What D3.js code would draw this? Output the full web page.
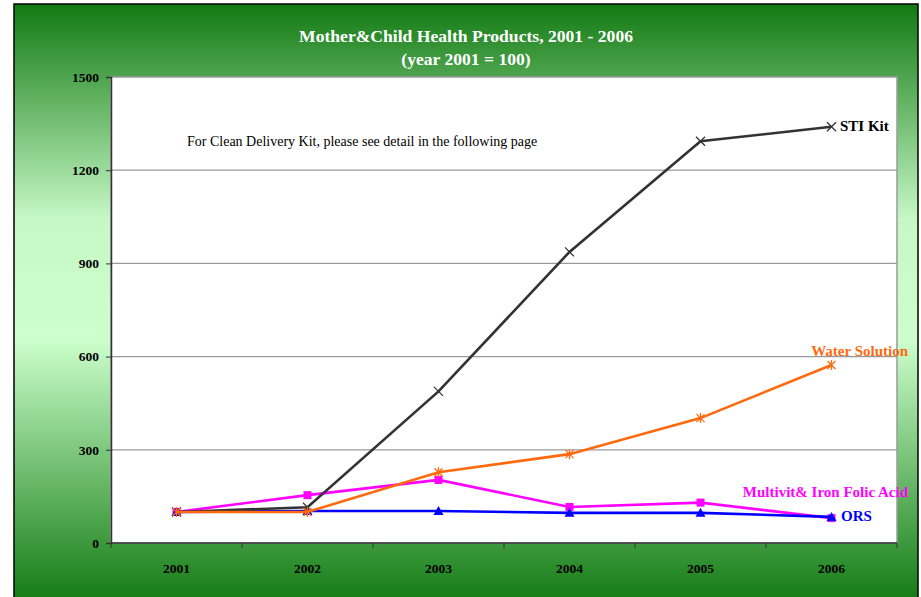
<!DOCTYPE html>
<html>
<head>
<meta charset="utf-8">
<script src="https://cdn.jsdelivr.net/npm/d3@7"></script>
<style>
  html, body { margin: 0; padding: 0; background: #ffffff; }
  svg { display: block; }
</style>
</head>
<body>
<svg id="chart" width="921" height="597"></svg>
<script>
// ---- data ----
const years = ["2001", "2002", "2003", "2004", "2005", "2006"];
const stiKit = [100, 115, 488, 937, 1293, 1340];
const waterSolution = [100, 100, 228, 286, 402, 573];
const multivitIron = [100, 154, 203, 116, 130, 80];
const ors = [100, 103, 103, 97, 97, 84];
const yTicks = [0, 300, 600, 900, 1200, 1500];
const titleLines = ["Mother&Child Health Products, 2001 - 2006", "(year 2001 = 100)"];
const noteText = "For Clean Delivery Kit, please see detail in the following page";

(function () {
const FONT = "'Liberation Serif', 'DejaVu Serif', serif";
const svg = d3.select("#chart");

// background gradient
const defs = svg.append("defs");
const grad = defs.append("linearGradient").attr("id", "bg")
  .attr("x1", 0).attr("y1", 0).attr("x2", 0).attr("y2", 1);
[[0, "#127a12"], [0.36, "#c6f8c6"], [0.56, "#ccffcc"], [1, "#127a12"]]
  .forEach(([o, c]) => grad.append("stop").attr("offset", o).attr("stop-color", c));

svg.append("rect").attr("x", 14).attr("y", 4).attr("width", 904).attr("height", 600)
  .attr("fill", "url(#bg)").attr("stroke", "#000").attr("stroke-width", 1.5);

// plot area
const pLeft = 111, pRight = 897, pTop = 77, pBottom = 543;
const x = d3.scaleBand().domain(years).range([pLeft, pRight]);
const xc = d => x(d) + x.bandwidth() / 2;
const y = d3.scaleLinear().domain([0, 1500]).range([pBottom, pTop]);

svg.append("rect").attr("x", pLeft).attr("y", pTop).attr("width", pRight - pLeft).attr("height", pBottom - pTop)
  .attr("fill", "#fff").attr("stroke", "#9a9a9a").attr("stroke-width", 1.5);

// gridlines
svg.append("g").selectAll("line").data(yTicks.filter(t => t > 0 && t < 1500)).join("line")
  .attr("x1", pLeft).attr("x2", pRight).attr("y1", d => y(d)).attr("y2", d => y(d))
  .attr("stroke", "#9a9a9a").attr("stroke-width", 1.2);

// y axis
const yAxis = svg.append("g").attr("transform", `translate(${pLeft},0)`)
  .call(d3.axisLeft(y).tickValues(yTicks).tickFormat(d3.format("d")).tickSize(5).tickPadding(7));
yAxis.select(".domain").attr("stroke", "#333").attr("stroke-width", 1.5);
yAxis.selectAll(".tick line").attr("stroke", "#333");
yAxis.selectAll("text").attr("font-family", FONT).attr("font-weight", "bold")
  .attr("font-size", 13.5).attr("fill", "#000");

// x axis: labels at centers, ticks at band boundaries
svg.append("line").attr("x1", pLeft).attr("x2", pRight).attr("y1", pBottom).attr("y2", pBottom)
  .attr("stroke", "#333").attr("stroke-width", 1.5);
const bounds = years.map(d => x(d)).concat([x(years[years.length - 1]) + x.bandwidth()]);
svg.append("g").selectAll("line").data(bounds).join("line")
  .attr("x1", d => d).attr("x2", d => d).attr("y1", pBottom).attr("y2", pBottom + 5)
  .attr("stroke", "#333").attr("stroke-width", 1);
svg.append("g").selectAll("text").data(years).join("text")
  .attr("x", d => xc(d)).attr("y", 573).attr("text-anchor", "middle")
  .attr("font-family", FONT).attr("font-weight", "bold").attr("font-size", 13.5).attr("fill", "#000")
  .text(d => d);

// title
svg.append("g").selectAll("text").data(titleLines).join("text")
  .attr("x", 466).attr("y", (d, i) => 42 + i * 23).attr("text-anchor", "middle")
  .attr("font-family", FONT).attr("font-weight", "bold").attr("font-size", 17.6).attr("fill", "#fff")
  .text(d => d);

// note
svg.append("text").attr("x", 187).attr("y", 146).attr("font-family", FONT)
  .attr("font-size", 14).attr("fill", "#000").text(noteText);

// series
const line = d3.line().x((d, i) => xc(years[i])).y(d => y(d));
const series = [
  { name: "Multivit& Iron Folic Acid", values: multivitIron, color: "#ff00ff", marker: "square", lx: 908, ly: 497, anchor: "end" },
  { name: "ORS", values: ors, color: "#0000ff", marker: "triangle", lx: 841, ly: 521, anchor: "start" },
  { name: "STI Kit", values: stiKit, color: "#333333", marker: "x", lx: 840, ly: 131, anchor: "start" },
  { name: "Water Solution", values: waterSolution, color: "#ff6a0f", marker: "star", lx: 908, ly: 356, anchor: "end" }
];

series.forEach(s => {
  const g = svg.append("g");
  g.append("path").datum(s.values).attr("d", line).attr("fill", "none")
    .attr("stroke", s.color).attr("stroke-width", 2.6);
  const pts = g.selectAll("g.m").data(s.values).join("g")
    .attr("transform", (d, i) => `translate(${xc(years[i])},${y(d)})`);
  if (s.marker === "square") {
    pts.append("rect").attr("x", -4).attr("y", -4).attr("width", 8).attr("height", 8).attr("fill", s.color);
  } else if (s.marker === "triangle") {
    pts.append("path").attr("d", "M0,-5L5,4L-5,4Z").attr("fill", s.color);
  } else if (s.marker === "x") {
    pts.append("path").attr("d", "M-4.5,-4.5L4.5,4.5M-4.5,4.5L4.5,-4.5").attr("stroke", s.color).attr("stroke-width", 1.3);
  } else {
    pts.append("path").attr("d", "M-4,-4L4,4M-4,4L4,-4M0,-5L0,5").attr("stroke", s.color).attr("stroke-width", 1.3);
  }
  svg.append("text").attr("x", s.lx).attr("y", s.ly).attr("text-anchor", s.anchor)
    .attr("font-family", FONT).attr("font-weight", "bold").attr("font-size", 15)
    .attr("fill", s.color === "#333333" ? "#000" : s.color).text(s.name);
});
})();
</script>
</body>
</html>
